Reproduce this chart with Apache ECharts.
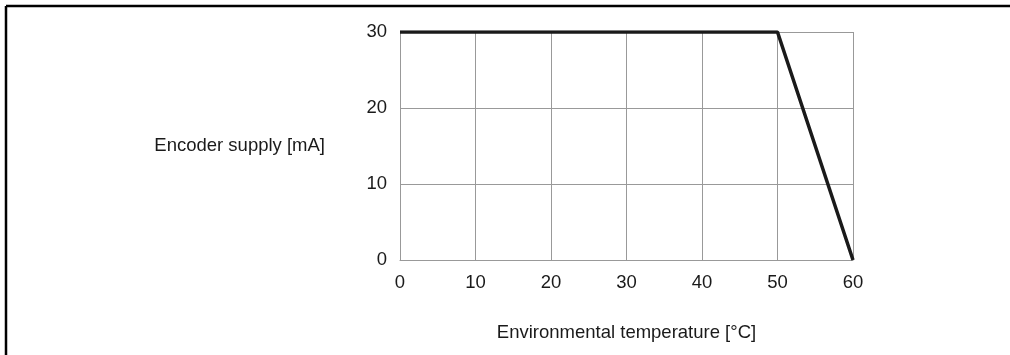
<!DOCTYPE html>
<html>
<head>
<meta charset="utf-8">
<script src="https://cdn.jsdelivr.net/npm/echarts@6/dist/echarts.min.js"></script>
<style>
  html, body { margin: 0; padding: 0; background: #fff; }
  #chart { width: 1010px; height: 355px; }
</style>
</head>
<body>
<div id="chart"></div>
<script>
  // derating curve: temperature (°C) vs encoder supply (mA)
  const temperature = [0, 50, 60];
  const supply = [30, 30, 0];
  const xTicks = [0, 10, 20, 30, 40, 50, 60];
  const yTicks = [0, 10, 20, 30];

  const chart = echarts.init(document.getElementById('chart'));
  const font = 'Liberation Sans, Arial, Helvetica, sans-serif';

  chart.setOption({
    animation: false,
    grid: { left: 400, top: 32, right: 157, bottom: 95 },
    xAxis: {
      type: 'value',
      min: xTicks[0],
      max: xTicks[xTicks.length - 1],
      interval: 10,
      name: 'Environmental temperature [°C]',
      nameLocation: 'middle',
      nameGap: 63,
      nameTextStyle: { color: '#1a1a1a', fontSize: 18.5, fontFamily: font },
      axisLine: { lineStyle: { color: '#999', width: 1 } },
      axisTick: { show: false },
      axisLabel: { color: '#1a1a1a', fontSize: 18.5, fontFamily: font, margin: 13 },
      splitLine: { show: true, lineStyle: { color: '#999', width: 1 } }
    },
    yAxis: {
      type: 'value',
      min: yTicks[0],
      max: yTicks[yTicks.length - 1],
      interval: 10,
      name: 'Encoder supply [mA]',
      nameLocation: 'middle',
      nameRotate: 0,
      nameGap: 75,
      nameTextStyle: { color: '#1a1a1a', fontSize: 18.5, fontFamily: font },
      axisLine: { show: true, lineStyle: { color: '#999', width: 1 } },
      axisTick: { show: false },
      axisLabel: { color: '#1a1a1a', fontSize: 18.5, fontFamily: font, margin: 13 },
      splitLine: { show: true, lineStyle: { color: '#999', width: 1 } }
    },
    series: [{
      type: 'line',
      data: temperature.map((t, i) => [t, supply[i]]),
      symbol: 'none',
      lineStyle: { color: '#1a1a1a', width: 3.5 },
      z: 5
    }],
    graphic: [
      { type: 'line', shape: { x1: 6, y1: 6, x2: 1010, y2: 6 }, style: { stroke: '#000', lineWidth: 2.5 } },
      { type: 'line', shape: { x1: 6, y1: 6, x2: 6, y2: 355 }, style: { stroke: '#000', lineWidth: 2.5 } }
    ]
  });
</script>
</body>
</html>
